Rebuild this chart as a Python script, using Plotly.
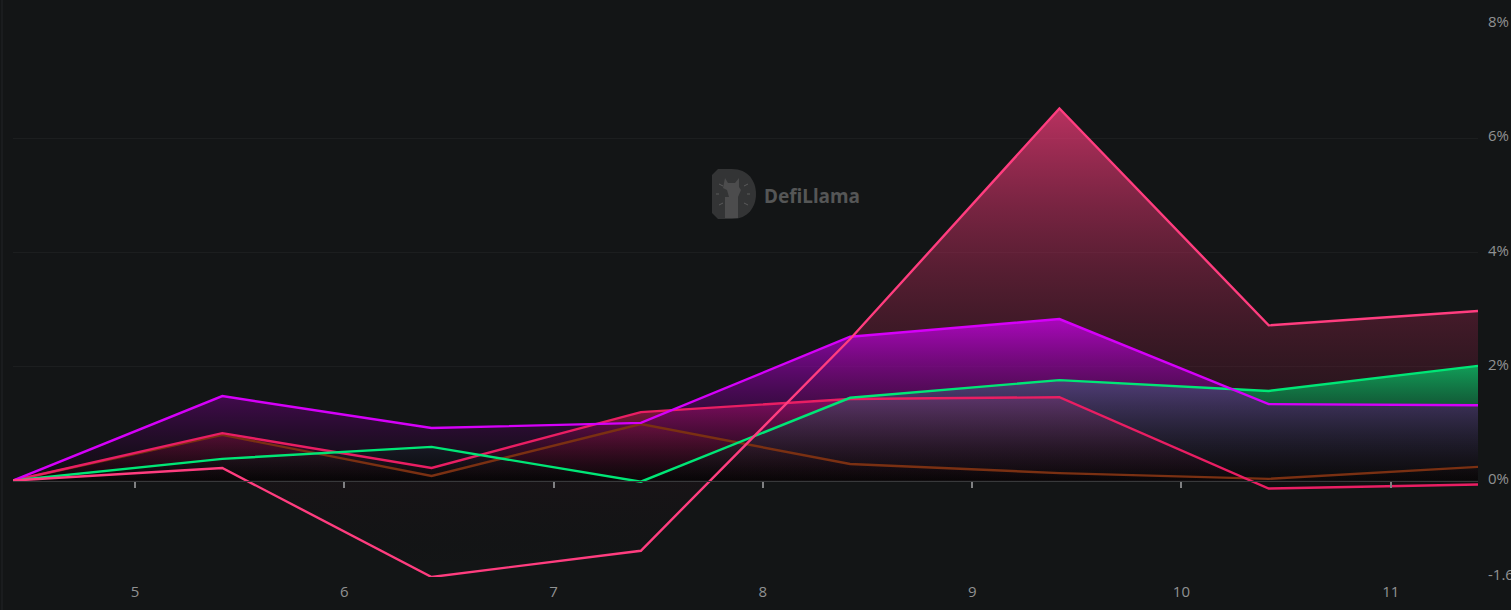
import plotly.graph_objects as go

W = 1511
H = 610
LEFT = 13
RIGHT = 1478
TOP = 24
BOTTOM = 577

days = [4.417, 5.417, 6.417, 7.417, 8.417, 9.417, 10.417, 11.417]
brown = [0, 0.80, 0.08, 0.99, 0.29, 0.13, 0.03, 0.24]
pink = [0, 0.22, -1.69, -1.23, 2.48, 6.52, 2.72, 2.97]
crimson = [0, 0.83, 0.22, 1.20, 1.43, 1.46, -0.14, -0.07]
green = [0, 0.38, 0.59, -0.02, 1.45, 1.76, 1.57, 2.01]
magenta = [0, 1.48, 0.92, 1.01, 2.52, 2.83, 1.34, 1.32]

x_ticks = [5, 6, 7, 8, 9, 10, 11]
y_ticks = [-1.69, 0, 2, 4, 6, 8]
y_labels = ["-1.69%", "0%", "2%", "4%", "6%", "8%"]

# name, values, line colour, rgb of the fill, fill alpha at top
series = [
    ("brown", brown, "#7a3012", "122,48,18", 0.6),
    ("crimson", crimson, "#e91e63", "233,30,99", 0.6),
    ("green", green, "#00e676", "0,230,118", 0.65),
    ("magenta", magenta, "#d500f9", "213,0,249", 0.7),
    ("pink", pink, "#ff3d7f", "255,61,127", 0.7),
]


def px(x):
    return (x - LEFT) / (RIGHT - LEFT)


def py(y):
    return (BOTTOM - y) / (BOTTOM - TOP)


def path(points):
    return "M " + " L ".join(f"{px(x):.5f},{py(y):.5f}" for x, y in points) + " Z"


fig = go.Figure()
# fills first, the lines have to stay on top of every fill
for i in [0, 4, 1, 2, 3]:
    name, vals, col, rgb, alpha = series[i]
    fig.add_trace(go.Scatter(
        x=days, y=vals, name=name + " fill", mode="none",
        fill="tozeroy",
        fillgradient=dict(
            type="vertical",
            colorscale=[[0, "rgba(0,0,0,0.0)" if name == "pink" else "rgba(0,0,0,0.3)"],
                        [1, f"rgba({rgb},{alpha})"]],
        ),
        showlegend=False,
        hoverinfo="skip",
    ))
for name, vals, col, rgb, alpha in series:
    fig.add_trace(go.Scatter(
        x=days, y=vals, name=name, mode="lines",
        line=dict(color=col, width=2.4),
        cliponaxis=False,
        showlegend=False,
        hoverinfo="skip",
    ))

# only here so that the tick labels axis is drawn at the bottom
fig.add_trace(go.Scatter(x=[days[0]], y=[0], xaxis="x2", mode="lines", showlegend=False, hoverinfo="skip"))

# watermark
d_shape = (f"M {px(718):.5f},{py(169):.5f} L {px(732):.5f},{py(169):.5f} "
           f"C {px(748):.5f},{py(169):.5f} {px(756):.5f},{py(181):.5f} {px(756):.5f},{py(194):.5f} "
           f"C {px(756):.5f},{py(207):.5f} {px(748):.5f},{py(219):.5f} {px(732):.5f},{py(219):.5f} "
           f"L {px(718):.5f},{py(219):.5f} L {px(712):.5f},{py(213):.5f} L {px(712):.5f},{py(175):.5f} Z")
llama = [(725, 178), (728, 183), (735, 183), (739, 178), (739, 187), (741, 190), (738, 197), (738, 218),
         (725, 218), (725, 197), (729, 197), (727, 190), (723, 188)]
shapes = [
    dict(type="path", path=d_shape, xref="paper", yref="paper", fillcolor="#333435", line_width=0, layer="below"),
    dict(type="path", path=path(llama), xref="paper", yref="paper", fillcolor="#4c4c4d", line_width=0, layer="below"),
]
for x0, y0, x1, y1 in [(719, 184, 723, 186), (744, 186, 748, 184), (716, 194, 719, 194), (747, 194, 750, 194),
                       (719, 205, 723, 203), (744, 203, 748, 205)]:
    shapes.append(dict(type="line", x0=px(x0), y0=py(y0), x1=px(x1), y1=py(y1), xref="paper", yref="paper",
                       line=dict(color="#5a5a5b", width=1), layer="below"))
# faint line at the far left of the chart
shapes.append(dict(type="line", x0=px(2), x1=px(2), y0=py(0), y1=py(H), xref="paper", yref="paper",
                   line=dict(color="#222426", width=1), layer="below"))

fig.update_layout(
    width=W, height=H,
    autosize=False,
    paper_bgcolor="#131516",
    plot_bgcolor="#131516",
    margin=dict(l=LEFT, r=W - RIGHT, t=TOP, b=H - BOTTOM, pad=0),
    font=dict(family="Open Sans", size=15, color="#909192"),
    shapes=shapes,
    # axis line with ticks sits on zero, the labels stay at the bottom
    xaxis=dict(
        automargin=False,
        range=[days[0], days[-1]], tickvals=x_ticks, showticklabels=False,
        ticks="outside", ticklen=6, tickwidth=2, tickcolor="#808183",
        showgrid=False, zeroline=False,
        showline=True, linecolor="#38393b", linewidth=1,
        anchor="free", position=1.69 / 9.69,
    ),
    xaxis2=dict(
        automargin=False,
        range=[days[0], days[-1]], overlaying="x", anchor="y", side="bottom",
        tickvals=x_ticks, showgrid=False, zeroline=False, showline=False,
        ticks="outside", ticklen=1, tickcolor="rgba(0,0,0,0)",
    ),
    yaxis=dict(
        automargin=False,
        range=[-1.69, 8], side="right", tickvals=y_ticks, ticktext=y_labels,
        showgrid=True, gridcolor="#1c1e1f", gridwidth=1, zeroline=False, showline=False,
        ticks="outside", ticklen=6, tickcolor="rgba(0,0,0,0)", ticklabelshift=-2,
    ),
    annotations=[dict(
        text="<b>DefiLlama</b>", x=px(762), y=py(196), xref="paper", yref="paper",
        xanchor="left", yanchor="middle", showarrow=False,
        font=dict(family="Noto Sans", size=19, color="#555656"),
    )],
)

fig.write_html("out.html", post_script="document.body.style.margin='0';", config=dict(displayModeBar=False))
